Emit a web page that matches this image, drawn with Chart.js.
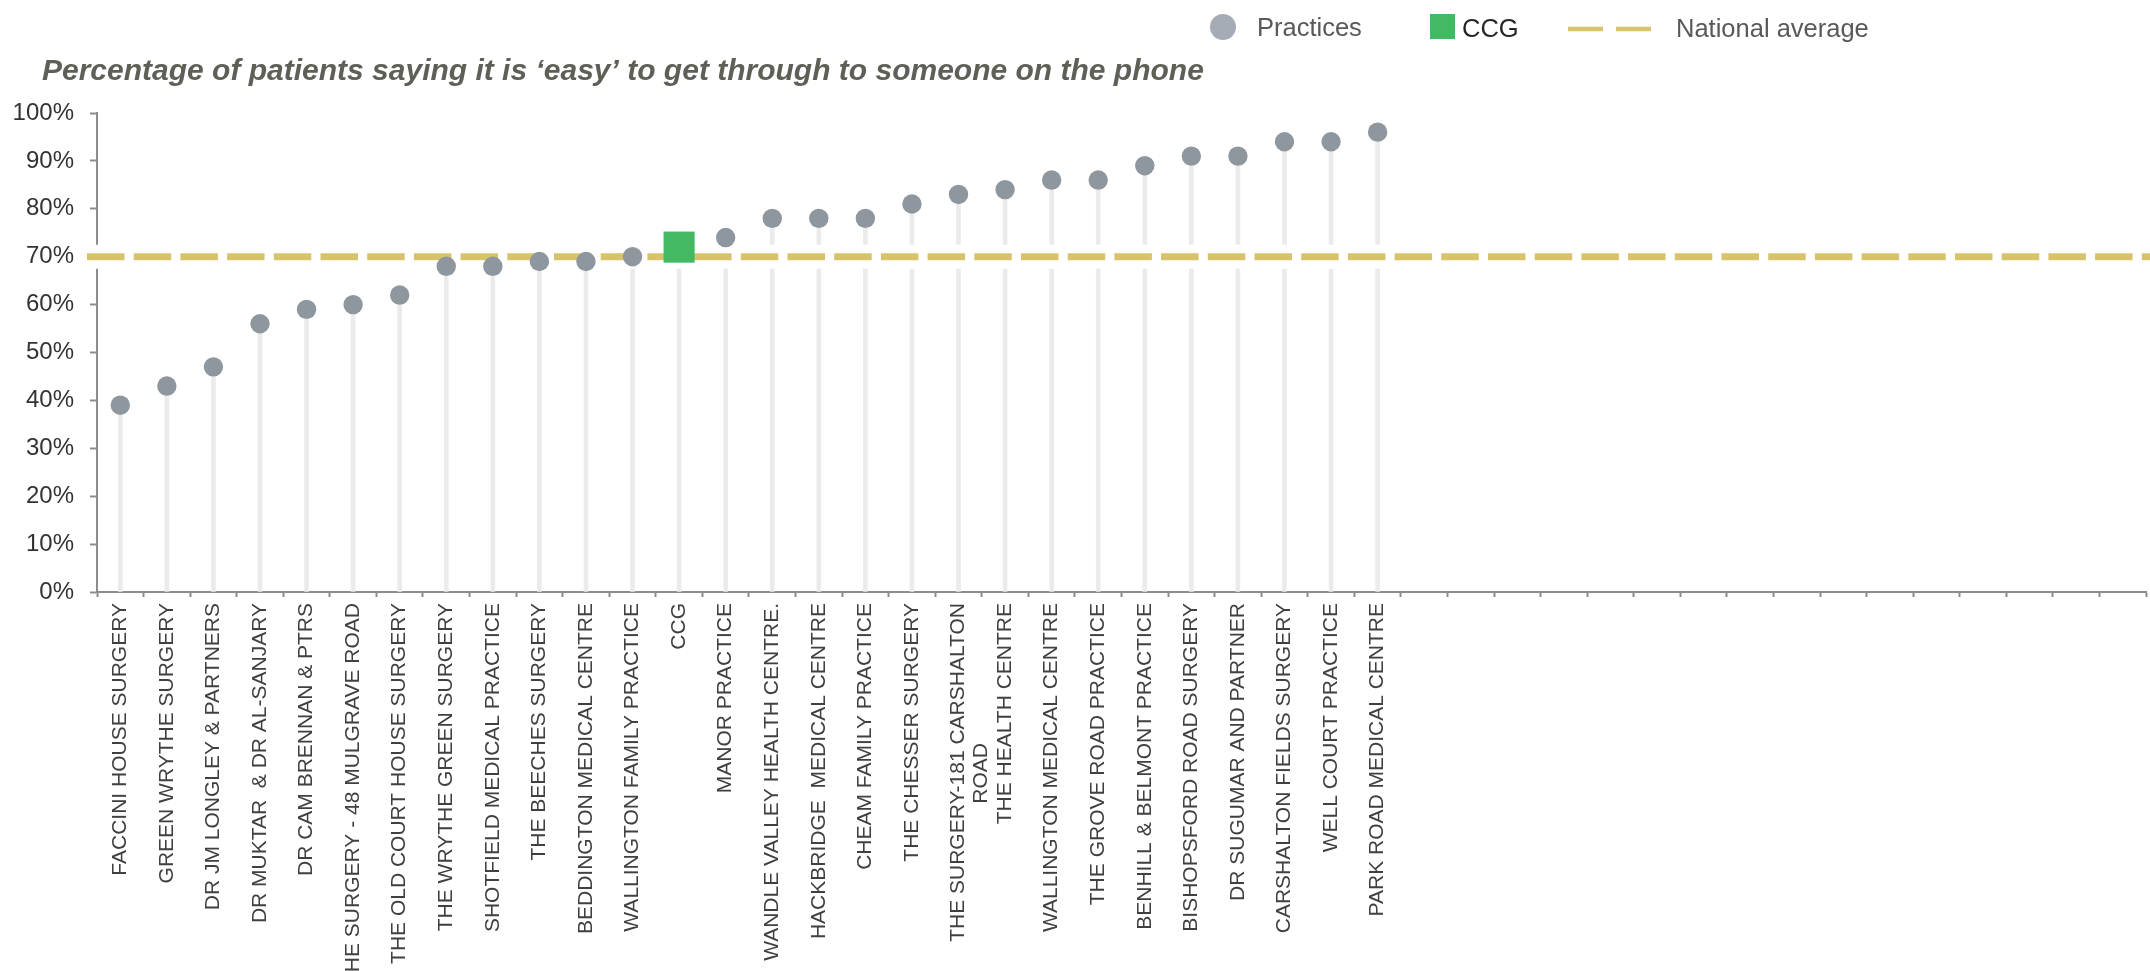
<!DOCTYPE html>
<html>
<head>
<meta charset="utf-8">
<script src="https://cdn.jsdelivr.net/npm/chart.js@4.4.1/dist/chart.umd.min.js"></script>
<style>
  html, body { margin: 0; padding: 0; background: #ffffff; }
  #wrap { width: 2150px; height: 971px; position: relative; }
</style>
</head>
<body>
<div id="wrap"><canvas id="chart"></canvas></div>
<script>
// ---- data ----
const categories = [
  'FACCINI HOUSE SURGERY',
  'GREEN WRYTHE SURGERY',
  'DR JM LONGLEY & PARTNERS',
  'DR MUKTAR  & DR AL-SANJARY',
  'DR CAM BRENNAN & PTRS',
  'THE SURGERY - 48 MULGRAVE ROAD',
  'THE OLD COURT HOUSE SURGERY',
  'THE WRYTHE GREEN SURGERY',
  'SHOTFIELD MEDICAL PRACTICE',
  'THE BEECHES SURGERY',
  'BEDDINGTON MEDICAL CENTRE',
  'WALLINGTON FAMILY PRACTICE',
  'CCG',
  'MANOR PRACTICE',
  'WANDLE VALLEY HEALTH CENTRE.',
  'HACKBRIDGE  MEDICAL CENTRE',
  'CHEAM FAMILY PRACTICE',
  'THE CHESSER SURGERY',
  ['THE SURGERY-181 CARSHALTON', 'ROAD                        '],
  'THE HEALTH CENTRE',
  'WALLINGTON MEDICAL CENTRE',
  'THE GROVE ROAD PRACTICE',
  'BENHILL & BELMONT PRACTICE',
  'BISHOPSFORD ROAD SURGERY',
  'DR SUGUMAR AND PARTNER',
  'CARSHALTON FIELDS SURGERY',
  'WELL COURT PRACTICE',
  'PARK ROAD MEDICAL CENTRE',
  '', '', '', '', '', '', '', '', '', '', '', '', '', '', '', ''
];
const practices = [39, 43, 47, 56, 59, 60, 62, 68, 68, 69, 69, 70, null, 74, 78, 78, 78, 81, 83, 84, 86, 86, 89, 91, 91, 94, 94, 96];
const ccg = [null, null, null, null, null, null, null, null, null, null, null, null, 72];
const nationalAverage = 70;
const legendLabels = ['Practices', 'CCG', 'National average'];
const titleText = 'Percentage of patients saying it is \u2018easy\u2019 to get through to someone on the phone';

// stems reach every marker (practice or CCG)
const stems = categories.map((_, i) => (practices[i] != null ? practices[i] : (ccg[i] != null ? ccg[i] : null)));

// ---- styles ----
const FONT = "'Liberation Sans', Arial, Helvetica, sans-serif";
const GREY_POINT = '#8e969e';
const GREY_LEGEND = '#a5acb6';
const GREEN = '#43b963';
const GOLD = '#d8c36b';
const STEM = '#ebebeb';
const AXIS = '#8c8c8c';

const nationalLine = {
  id: 'nationalLine',
  afterDatasetDraw(chart, args) {
    if (args.index !== 0) return;
    const y = chart.scales.y.getPixelForValue(nationalAverage);
    const ctx = chart.ctx;
    const x0 = chart.chartArea.left - 10;
    const x1 = chart.width;
    ctx.save();
    ctx.strokeStyle = '#ffffff';
    ctx.lineWidth = 24;
    ctx.beginPath(); ctx.moveTo(x0, y); ctx.lineTo(x1, y); ctx.stroke();
    ctx.strokeStyle = GOLD;
    ctx.lineWidth = 7;
    ctx.setLineDash([37.5, 9.2]);
    ctx.beginPath(); ctx.moveTo(x0, y); ctx.lineTo(x1, y); ctx.stroke();
    ctx.restore();
  }
};

// let the y tick labels use the space left of the axis box
const widenYLabels = {
  id: 'widenYLabels',
  afterLayout(chart) {
    const y = chart.scales.y;
    y.left = 0;
    y.width = y.right - y.left;
  }
};

const customLegend = {
  id: 'customLegend',
  afterDraw(chart) {
    const ctx = chart.ctx;
    ctx.save();
    ctx.font = '25.5px ' + FONT;
    ctx.textBaseline = 'alphabetic';
    // Practices
    ctx.fillStyle = GREY_LEGEND;
    ctx.beginPath(); ctx.arc(1223, 27, 13, 0, Math.PI * 2); ctx.fill();
    ctx.fillStyle = '#595959';
    ctx.fillText(legendLabels[0], 1257, 35.5);
    // CCG
    ctx.fillStyle = GREEN;
    ctx.fillRect(1430, 14, 25, 25);
    ctx.fillStyle = '#262626';
    ctx.fillText(legendLabels[1], 1462, 37);
    // National average
    ctx.strokeStyle = GOLD;
    ctx.lineWidth = 4.5;
    ctx.beginPath(); ctx.moveTo(1568, 29); ctx.lineTo(1603, 29); ctx.stroke();
    ctx.beginPath(); ctx.moveTo(1616, 29); ctx.lineTo(1651, 29); ctx.stroke();
    ctx.fillStyle = '#595959';
    ctx.fillText(legendLabels[2], 1676, 37);
    ctx.restore();
  }
};

new Chart(document.getElementById('chart'), {
  type: 'bar',
  data: {
    labels: categories,
    datasets: [
      {
        type: 'bar',
        label: 'stems',
        data: stems,
        backgroundColor: STEM,
        borderWidth: 0,
        barThickness: 4,
        order: 3
      },
      {
        type: 'line',
        label: legendLabels[0],
        data: practices,
        showLine: false,
        pointStyle: 'circle',
        pointRadius: 9.7,
        pointHoverRadius: 9.7,
        pointBackgroundColor: GREY_POINT,
        pointBorderWidth: 0,
        order: 1
      },
      {
        type: 'line',
        label: legendLabels[1],
        data: ccg,
        showLine: false,
        pointStyle: 'rect',
        pointRadius: 22,
        pointHoverRadius: 22,
        pointBackgroundColor: GREEN,
        pointBorderWidth: 0,
        order: 0
      }
    ]
  },
  options: {
    responsive: true,
    maintainAspectRatio: false,
    animation: false,
    events: [],
    layout: { autoPadding: false, padding: { left: 42, right: 4, top: 0, bottom: 0 } },
    plugins: {
      legend: { display: false },
      tooltip: { enabled: false },
      title: {
        display: true,
        text: titleText,
        align: 'start',
        color: '#5e5f57',
        font: { family: FONT, size: 30, weight: 'bold', style: 'italic', lineHeight: 1.2 },
        padding: { top: 54, bottom: 23 }
      }
    },
    scales: {
      x: {
        offset: true,
        grid: {
          display: true,
          offset: true,
          drawOnChartArea: false,
          drawTicks: true,
          tickLength: 5,
          tickWidth: 2,
          tickColor: AXIS
        },
        border: { display: true, color: AXIS, width: 2 },
        ticks: {
          autoSkip: false,
          maxRotation: 90,
          minRotation: 90,
          padding: 6,
          color: '#404040',
          font: { family: FONT, size: 21, lineHeight: 1.1 }
        },
        afterFit(scale) {
          scale.height = 379;
          scale.paddingLeft = 0;
          scale.paddingRight = 0;
        }
      },
      y: {
        min: 0,
        max: 100,
        ticks: {
          stepSize: 10,
          padding: 16,
          color: '#333333',
          font: { family: FONT, size: 24 },
          callback: (v) => v + '%'
        },
        grid: {
          drawOnChartArea: false,
          drawTicks: true,
          tickLength: 7,
          tickWidth: 2,
          tickColor: AXIS
        },
        border: { display: true, color: AXIS, width: 2 },
        afterFit(scale) { scale.width = 55; }
      }
    }
  },
  plugins: [widenYLabels, nationalLine, customLegend]
});
</script>
</body>
</html>
